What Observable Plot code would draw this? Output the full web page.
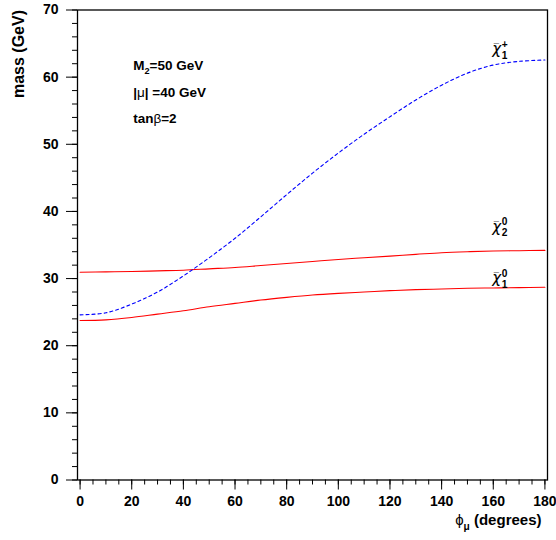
<!DOCTYPE html>
<html><head><meta charset="utf-8">
<script src="https://cdn.jsdelivr.net/npm/d3@7"></script>
<script src="https://cdn.jsdelivr.net/npm/@observablehq/plot@0.6"></script>
<style>
html,body{margin:0;padding:0;background:#fff;}
</style></head><body><div id="chart"></div>
<script>
// ---- data ----
const phiDeg = [0,10,20,30,40,50,60,70,80,90,100,110,120,130,140,150,160,170,180];
const charginoMass   = [24.6,24.9,26.2,28.0,30.4,33.1,36.0,39.2,42.5,45.7,48.7,51.5,54.1,56.6,58.8,60.6,61.8,62.35,62.55];
const neutralino2Mass = [30.95,31.0,31.05,31.15,31.25,31.45,31.65,31.95,32.25,32.55,32.85,33.1,33.35,33.6,33.85,34.0,34.1,34.15,34.2];
const neutralino1Mass = [23.75,23.85,24.2,24.7,25.2,25.8,26.3,26.8,27.2,27.55,27.8,28.0,28.2,28.35,28.45,28.55,28.6,28.65,28.7];
const curveLabels = ["!χ_{1}^{+}", "!χ_{2}^{0}", "!χ_{1}^{0}"];
const paramTexts = ["M_{2}=50 GeV", "|μ| =40 GeV", "tanβ=2"];
const xMajorTicks = [0,20,40,60,80,100,120,140,160,180];
const xMinorTicks = d3.range(0, 181, 5);
const yMajorTicks = [0,10,20,30,40,50,60,70];
const yMinorTicks = d3.range(0, 71, 2);
const xTitle = "ϕ_{μ} (degrees)";
const yTitle = "mass (GeV)";
const labelIndex = 16; // labels sit above the curves at phi = 160

const rows = (arr) => phiDeg.map((p, i) => ({phi: p, m: arr[i]}));
const labelRow = (arr, k) => [{phi: phiDeg[labelIndex], m: arr[labelIndex], t: curveLabels[k]}];

const chart = Plot.plot({
  width: 556, height: 540,
  marginLeft: 77, marginRight: 9, marginTop: 9.5, marginBottom: 60.5,
  x: {domain: [-1, 181]},
  y: {domain: [0, 70]},
  style: {fontFamily: "'Liberation Sans', Arial, Helvetica, sans-serif", fontSize: "14px", fontWeight: "bold", color: "#000", background: "#fff"},
  marks: [
    Plot.axisX({ticks: xMinorTicks, tickSize: 5, tickFormat: () => "", label: null}),
    Plot.axisX({ticks: xMajorTicks, tickSize: 10, tickPadding: 6, label: null}),
    Plot.axisY({ticks: yMinorTicks, tickSize: 5, tickFormat: () => "", label: null}),
    Plot.axisY({ticks: yMajorTicks, tickSize: 11, tickPadding: 8, label: null}),
    Plot.line(rows(neutralino2Mass), {x: "phi", y: "m", stroke: "#ff0000", strokeWidth: 1.1, curve: "catmull-rom"}),
    Plot.line(rows(neutralino1Mass), {x: "phi", y: "m", stroke: "#ff0000", strokeWidth: 1.1, curve: "catmull-rom"}),
    Plot.line(rows(charginoMass), {x: "phi", y: "m", stroke: "#0000ff", strokeWidth: 1.1, strokeDasharray: "3,3", curve: "catmull-rom"}),
    Plot.frame({stroke: "#000", strokeWidth: 1.3}),
    Plot.text(labelRow(charginoMass, 0), {x: "phi", y: "m", text: "t", textAnchor: "start", lineAnchor: "middle", dx: -1, dy: -15.4, fontSize: 15}),
    Plot.text(labelRow(neutralino2Mass, 1), {x: "phi", y: "m", text: "t", textAnchor: "start", lineAnchor: "middle", dx: -1, dy: -24.3, fontSize: 15}),
    Plot.text(labelRow(neutralino1Mass, 2), {x: "phi", y: "m", text: "t", textAnchor: "start", lineAnchor: "middle", dx: -1, dy: -9.3, fontSize: 15}),
    Plot.text([paramTexts[0]], {text: d => d, frameAnchor: "top-left", textAnchor: "start", lineAnchor: "middle", dx: 55.7, dy: 55.5, fontSize: 13.5}),
    Plot.text([paramTexts[1]], {text: d => d, frameAnchor: "top-left", textAnchor: "start", lineAnchor: "middle", dx: 55.7, dy: 82.2, fontSize: 13.5}),
    Plot.text([paramTexts[2]], {text: d => d, frameAnchor: "top-left", textAnchor: "start", lineAnchor: "middle", dx: 55.7, dy: 108.8, fontSize: 13.5}),
    Plot.text([xTitle], {text: d => d, frameAnchor: "bottom-right", textAnchor: "end", lineAnchor: "middle", dx: -6, dy: 40.5, fontSize: 15}),
    Plot.text([yTitle], {text: d => d, frameAnchor: "top-left", textAnchor: "end", lineAnchor: "middle", rotate: -90, dx: -59, dy: 0, fontSize: 16})
  ]
});
document.getElementById("chart").appendChild(chart);

// ---- rich text: subscripts, superscripts, overbar, upright greek ----
const NS = "http://www.w3.org/2000/svg";
const richSet = new Set([...curveLabels, ...paramTexts, xTitle]);
function parse(markup) {
  const segs = []; let buf = ""; let i = 0;
  const flush = () => { if (buf) { segs.push({t: buf, kind: "n"}); buf = ""; } };
  while (i < markup.length) {
    const c = markup[i];
    if ((c === "_" || c === "^") && markup[i + 1] === "{") {
      flush();
      const j = markup.indexOf("}", i + 2);
      segs.push({t: markup.slice(i + 2, j), kind: c === "_" ? "sub" : "sup"});
      i = j + 1; continue;
    }
    if (c === "!") { flush(); segs.push({t: markup[i + 1], kind: "bar"}); i += 2; continue; }
    if (/[\u0370-\u03ff]/.test(c)) { flush(); segs.push({t: c, kind: "g"}); i++; continue; }
    buf += c; i++;
  }
  flush();
  return segs;
}
function rich(textEl) {
  const markup = textEl.textContent;
  const size = parseFloat(getComputedStyle(textEl).fontSize);
  const segs = parse(markup);
  textEl.textContent = "";
  let shift = 0, prev = null;
  for (const s of segs) {
    const ts = document.createElementNS(NS, "tspan");
    ts.textContent = s.t;
    let target = 0, dx = 0;
    if (s.kind === "sub") { target = 0.28 * size; ts.setAttribute("font-size", 0.68 * size); }
    if (s.kind === "sup") {
      target = -0.42 * size; ts.setAttribute("font-size", 0.68 * size);
      if (prev && prev.kind === "sub") dx = -prev.width;
    }
    if (s.kind === "g" || s.kind === "bar") ts.setAttribute("font-weight", "normal");
    if (s.kind === "bar") { ts.setAttribute("font-family", "'DejaVu Sans', sans-serif"); ts.setAttribute("font-style", "italic"); }
    if (target - shift !== 0) ts.setAttribute("dy", target - shift);
    shift = target;
    if (dx) ts.setAttribute("dx", dx);
    textEl.appendChild(ts);
    s.width = ts.getComputedTextLength();
    if (s.kind === "bar") {
      const bar = document.createElementNS(NS, "tspan");
      bar.textContent = "\u00AF";
      bar.setAttribute("font-weight", "normal");
      bar.setAttribute("font-size", 0.62 * size);
      textEl.appendChild(bar);
      const wb = bar.getComputedTextLength();
      bar.setAttribute("dx", -(s.width / 2 + wb / 2) - 0.5);
      bar.setAttribute("dy", -4);
      shift = -4;
      s.after = s.width / 2 - wb / 2 + 0.5;
    }
    if (prev && prev.kind === "bar") {
      const cur = parseFloat(ts.getAttribute("dx") || 0);
      ts.setAttribute("dx", cur + prev.after + 0.5);
    }
    prev = s;
  }
}
d3.select(chart).selectAll("text").filter(function() { return richSet.has(this.textContent); }).each(function() { rich(this); });
</script>
</body></html>
